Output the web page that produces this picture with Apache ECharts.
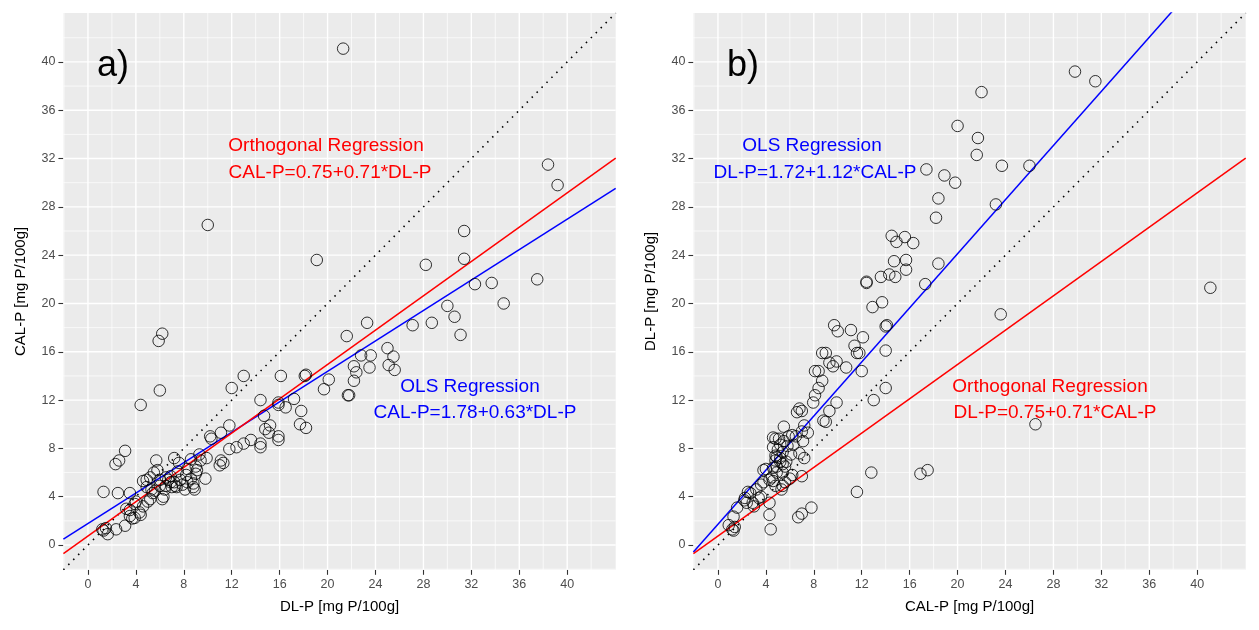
<!DOCTYPE html>
<html><head><meta charset="utf-8">
<script src="https://cdn.jsdelivr.net/npm/echarts@6/dist/echarts.min.js"></script>
<style>html,body{margin:0;padding:0;background:#fff}#c{width:1259px;height:630px}</style>
</head><body><div id="c"></div>
<script>
// Paired observations (same samples in both panels, axes swapped in b)
const dlP = [21.3,10.0,19.1,28.2,31.4,31.4,32.3,33.7,37.5,38.4,39.2,34.7,30.0,30.6,31.1,28.7,27.1,23.3,21.6,25.0,
  25.5,25.1,25.6,22.8,23.6,22.2,22.4,22.2,23.5,21.7,21.8,19.7,20.1,18.2,18.1,16.1,17.8,17.7,18.2,17.2,
  16.5,15.9,15.9,14.4,14.7,14.8,15.1,15.2,15.9,15.9,14.4,14.4,13.6,13.0,12.4,11.8,11.8,11.1,10.2,10.3,
  12.0,13.0,11.1,11.3,11.0,9.9,9.4,9.3,9.0,9.1,9.0,9.8,8.2,8.8,8.8,8.9,8.6,7.2,7.5,7.7,
  7.3,7.2,6.5,6.7,5.7,5.8,5.5,5.2,4.9,6.0,6.0,6.3,6.2,5.4,5.3,5.0,5.2,4.9,4.4,6.0,
  5.9,6.2,3.1,2.6,2.3,1.3,2.5,3.5,3.9,4.6,3.2,3.5,3.5,3.9,4.3,4.4,3.1,1.2,1.5,2.35,
  1.65,1.3,3.7,4.6,8.3,7.6,6.9,6.9,7.0,6.5,8.1,7.9,6.4,5.6,8.6,7.4,8.3,4.0];
const calP = [41.1,26.5,23.6,23.2,26.0,23.7,21.6,21.7,22.0,31.5,29.8,20.0,19.8,18.9,17.4,18.4,18.2,18.4,17.3,16.3,
  15.6,14.9,14.5,15.7,15.7,14.8,14.3,13.6,14.7,12.4,12.4,12.9,13.7,14.1,14.0,14.0,11.1,10.0,9.7,12.1,
  11.4,11.8,11.6,12.0,10.7,9.6,9.3,9.9,9.0,8.7,8.4,8.1,8.7,8.4,8.1,7.95,9.9,9.3,9.0,8.8,
  13.0,14.0,7.0,6.8,6.6,7.2,7.0,7.5,6.5,6.2,5.9,5.5,5.8,5.1,4.8,4.6,7.1,7.2,6.1,5.4,
  4.9,5.2,4.9,5.4,7.0,6.2,6.0,5.6,5.4,5.4,4.9,4.0,3.8,4.3,4.6,3.6,3.8,4.8,11.6,12.8,
  16.9,17.5,7.8,7.0,6.7,4.4,4.3,4.3,3.4,3.2,3.0,2.9,2.4,2.25,2.7,2.5,1.6,1.3,1.4,1.3,
  0.9,1.2,2.2,5.3,5.2,6.8,5.7,5.2,4.8,5.6,4.6,5.0,4.6,4.5,5.5,4.8,6.3,3.6];

const tickValues = [0,4,8,12,16,20,24,28,32,36,40];
const minorValues = [-2,2,6,10,14,18,22,26,30,34,38,42];
const AX_MIN = -2.05, AX_MAX = 44.05;

// regression lines [intercept, slope]
const lineA = { ortho: [0.75, 0.71], ols: [1.78, 0.63], identity: [0, 1] };
const lineB = { ortho: [0.75, 0.71], ols: [1.72, 1.12], identity: [0, 1] };

const chart = echarts.init(document.getElementById('c'));
const FONT = '"Liberation Sans", Arial, sans-serif';

function lineData(p) { return [[AX_MIN, p[0] + p[1]*AX_MIN], [AX_MAX, p[0] + p[1]*AX_MAX]]; }

const grids = [
  { left: 63.4, top: 13, width: 552.3, height: 556.8 },
  { left: 693.4, top: 13, width: 552.3, height: 556.8 }
].map(g => Object.assign(g, { show: true, backgroundColor: '#EBEBEB', borderWidth: 0, containLabel: false }));

function axisCommon(i, name, gap) {
  return { gridIndex: i, type: 'value', min: AX_MIN, max: AX_MAX, name: name, nameLocation: 'middle', nameGap: gap,
    nameTextStyle: { fontFamily: FONT, fontSize: 15, color: '#000' },
    axisLine: { show: false, onZero: false }, splitLine: { show: false },
    axisTick: { show: true, length: 5, lineStyle: { color: '#333', width: 1.1 }, customValues: tickValues },
    axisLabel: { customValues: tickValues, margin: 8, fontFamily: FONT, fontSize: 12.5, color: '#4D4D4D' } };
}

function gridLines(i, values, width) {
  const d = [];
  values.forEach(v => { d.push([v, AX_MIN], [v, AX_MAX], ['-', '-']); });
  values.forEach(v => { d.push([AX_MIN, v], [AX_MAX, v], ['-', '-']); });
  return { type: 'line', xAxisIndex: i, yAxisIndex: i, data: d, symbol: 'none', z: 1, silent: true,
    connectNulls: false, animation: false, lineStyle: { color: '#FFFFFF', width: width } };
}
function ln(i, p, color, type, width) {
  return { type: 'line', xAxisIndex: i, yAxisIndex: i, data: lineData(p), symbol: 'none', z: 3, silent: true,
    lineStyle: { color: color, width: width, type: type }, animation: false, clip: true };
}
function pts(i, xs, ys) {
  return { type: 'scatter', xAxisIndex: i, yAxisIndex: i, data: xs.map((v, k) => [v, ys[k]]), z: 4,
    symbol: 'circle', symbolSize: 11.5, animation: false,
    itemStyle: { color: 'rgba(0,0,0,0)', borderColor: '#000', borderWidth: 1 } };
}

function txt(x, y, s, color, size) {
  return { type: 'text', x: x, y: y, z: 10, style: { text: s, fill: color, font: size + 'px ' + FONT, align: 'center', verticalAlign: 'middle' } };
}

chart.setOption({
  animation: false,
  grid: grids,
  xAxis: [axisCommon(0, 'DL-P [mg P/100g]', 30), axisCommon(1, 'CAL-P [mg P/100g]', 30)],
  yAxis: [axisCommon(0, 'CAL-P [mg P/100g]', 35), axisCommon(1, 'DL-P [mg P/100g]', 35)],
  series: [
    gridLines(0, minorValues, 0.7), gridLines(0, tickValues, 1.4),
    gridLines(1, minorValues, 0.7), gridLines(1, tickValues, 1.4),
    ln(0, lineA.identity, '#000', [1.5, 5.5], 1.6), ln(0, lineA.ols, '#0000FF', 'solid', 1.5), ln(0, lineA.ortho, '#FF0000', 'solid', 1.5),
    ln(1, lineB.identity, '#000', [1.5, 5.5], 1.6), ln(1, lineB.ols, '#0000FF', 'solid', 1.5), ln(1, lineB.ortho, '#FF0000', 'solid', 1.5),
    pts(0, dlP, calP), pts(1, calP, dlP)
  ],
  graphic: [
    txt(113, 66, 'a)', '#000', 36),
    txt(326, 146, 'Orthogonal Regression', '#FF0000', 19),
    txt(330, 173, 'CAL-P=0.75+0.71*DL-P', '#FF0000', 19),
    txt(470, 387, 'OLS Regression', '#0000FF', 19),
    txt(475, 413, 'CAL-P=1.78+0.63*DL-P', '#0000FF', 19),
    txt(743, 66, 'b)', '#000', 36),
    txt(812, 146, 'OLS Regression', '#0000FF', 19),
    txt(815, 173, 'DL-P=1.72+1.12*CAL-P', '#0000FF', 19),
    txt(1050, 387, 'Orthogonal Regression', '#FF0000', 19),
    txt(1055, 413, 'DL-P=0.75+0.71*CAL-P', '#FF0000', 19)
  ]
});
</script></body></html>
